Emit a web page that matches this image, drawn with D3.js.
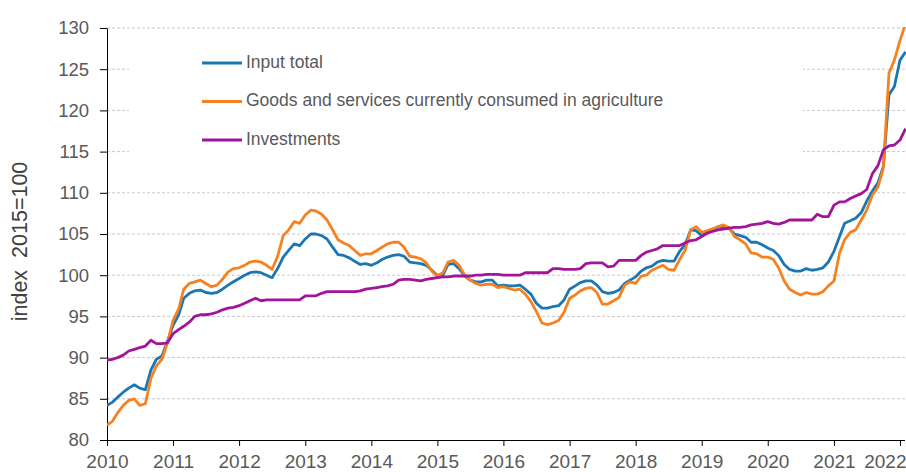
<!DOCTYPE html>
<html>
<head>
<meta charset="utf-8">
<script src="https://cdn.jsdelivr.net/npm/d3@7"></script>
<style>
    body { margin: 0; background: #ffffff; }
    svg { display: block; font-family: "Liberation Sans", Arial, sans-serif; }
</style>
</head>
<body>
<div id="graph"></div>
<script>

// Monthly series, January 2010 -> February 2022 (index 2015=100)
const inputTotal = [
    84.2, 84.6, 85.2, 85.8, 86.3, 86.7, 86.3, 86.1, 88.5, 89.8, 90.2, 92.0,
    93.9, 95.2, 97.2, 97.8, 98.1, 98.2, 97.9, 97.8, 97.9, 98.3, 98.8, 99.2,
    99.6, 100.0, 100.3, 100.4, 100.3, 100.0, 99.7, 100.8, 102.2, 103.0, 103.8, 103.6,
    104.4, 105.0, 105.0, 104.8, 104.4, 103.4, 102.5, 102.4, 102.1, 101.7, 101.3, 101.4,
    101.2, 101.5, 101.9, 102.2, 102.4, 102.5, 102.3, 101.6, 101.5, 101.4, 101.2, 100.6,
    100.0, 100.0, 101.3, 101.4, 100.8, 99.9, 99.4, 99.2, 99.2, 99.4, 99.4, 98.7,
    98.8, 98.7, 98.7, 98.8, 98.3, 97.7, 96.6, 96.0, 96.0, 96.2, 96.3, 97.0,
    98.3, 98.7, 99.1, 99.3, 99.3, 98.8, 98.0, 97.8, 97.9, 98.2, 99.0, 99.4,
    99.8, 100.5, 100.9, 101.1, 101.6, 101.8, 101.7, 101.7, 102.9, 103.7, 105.5, 105.4,
    104.8, 105.3, 105.6, 105.8, 105.9, 105.7, 105.0, 104.8, 104.6, 104.0, 104.0, 103.7,
    103.3, 103.0, 102.4, 101.3, 100.7, 100.5, 100.5, 100.8, 100.6, 100.7, 100.9, 101.6,
    102.9, 104.7, 106.3, 106.6, 106.9, 107.6, 109.0, 110.2, 111.2, 113.2, 121.9, 122.9,
    126.1, 127.1
];

const goodsServices = [
    81.8, 82.3, 83.3, 84.2, 84.8, 85.0, 84.2, 84.4, 87.5, 89.0, 89.8, 91.8,
    94.5, 95.9, 98.3, 99.0, 99.2, 99.4, 99.0, 98.6, 98.8, 99.5, 100.4, 100.8,
    100.9, 101.2, 101.6, 101.7, 101.6, 101.2, 100.7, 102.3, 104.8, 105.5, 106.5, 106.3,
    107.3, 107.9, 107.8, 107.4, 106.7, 105.5, 104.3, 103.9, 103.6, 103.0, 102.4, 102.6,
    102.6, 103.0, 103.4, 103.8, 104.0, 104.0, 103.4, 102.3, 102.2, 102.0, 101.5, 100.5,
    99.9, 100.3, 101.6, 101.8, 101.2, 100.0, 99.4, 99.0, 98.8, 98.9, 98.9, 98.5,
    98.6, 98.4, 98.2, 98.3, 97.7, 96.8, 95.6, 94.2, 94.0, 94.2, 94.5, 95.5,
    97.2, 97.6, 98.1, 98.4, 98.5, 97.9, 96.5, 96.5, 96.9, 97.3, 98.8, 99.2,
    99.0, 99.9, 100.0, 100.6, 100.9, 101.2, 100.7, 100.6, 101.9, 103.0, 105.5, 105.9,
    105.2, 105.4, 105.6, 105.9, 106.1, 105.8, 104.7, 104.3, 103.8, 102.7, 102.6, 102.2,
    102.2, 101.9, 100.9, 99.3, 98.3, 97.9, 97.6, 97.9, 97.7, 97.7, 98.0, 98.7,
    99.3, 102.7, 104.3, 105.2, 105.5, 106.7, 107.9, 109.7, 110.7, 113.0, 124.5, 126.1,
    128.5, 130.5
];

const investments = [
    89.7, 89.8, 90.0, 90.3, 90.8, 91.0, 91.2, 91.4, 92.1, 91.7, 91.7, 91.8,
    92.9, 93.4, 93.8, 94.3, 95.0, 95.2, 95.2, 95.3, 95.5, 95.8, 96.0, 96.1,
    96.3, 96.6, 96.9, 97.2, 96.9, 97.0, 97.0, 97.0, 97.0, 97.0, 97.0, 97.0,
    97.5, 97.5, 97.5, 97.8, 98.0, 98.0, 98.0, 98.0, 98.0, 98.0, 98.1, 98.3,
    98.4, 98.5, 98.6, 98.7, 98.9, 99.4, 99.5, 99.5, 99.4, 99.3, 99.5, 99.6,
    99.7, 99.8, 99.8, 99.9, 99.9, 99.9, 99.9, 100.0, 100.0, 100.1, 100.1, 100.1,
    100.0, 100.0, 100.0, 100.0, 100.3, 100.3, 100.3, 100.3, 100.3, 100.8, 100.8, 100.7,
    100.7, 100.7, 100.8, 101.4, 101.5, 101.5, 101.5, 101.0, 101.1, 101.8, 101.8, 101.8,
    101.8, 102.4, 102.8, 103.0, 103.2, 103.6, 103.6, 103.6, 103.6, 103.9, 104.2, 104.3,
    104.7, 105.1, 105.3, 105.5, 105.6, 105.7, 105.8, 105.8, 105.9, 106.1, 106.2, 106.3,
    106.5, 106.3, 106.2, 106.4, 106.7, 106.7, 106.7, 106.7, 106.7, 107.4, 107.1, 107.1,
    108.5, 108.9, 108.9, 109.3, 109.6, 109.9, 110.4, 112.3, 113.3, 115.2, 115.7, 115.8,
    116.4, 117.8
];

const seriesNames = ["Input total", "Goods and services currently consumed in agriculture", "Investments"];
const seriesColors = ["#1b77b4", "#f5821f", "#a3149b"];
const yearTicks = [2010, 2011, 2012, 2013, 2014, 2015, 2016, 2017, 2018, 2019, 2020, 2021, 2022];
const yTicks = [80, 85, 90, 95, 100, 105, 110, 115, 120, 125, 130];
const yLabel = "index\u00a0\u00a02015=100";

//---------------------------------------------------------------------------------------

// Canvas

const width = 906;
const height = 472;
const plotLeft = 107;
const plotRight = 905;
const plotTop = 28;
const plotBottom = 440;

const svg = d3.select("#graph")
    .append("svg")
    .attr("width", width)
    .attr("height", height);

// month dates for the x positions
const months = inputTotal.map((d, i) => new Date(2010, i, 1));

//---------------------------------------------------------------------------------------

// Scales

const scaleT = d3.scaleTime()
    .domain([new Date(2010, 0, 1), new Date(2022, 0, 1)])
    .range([plotLeft, 900]);

const scaleY = d3.scaleLinear()
    .domain([80, 130])
    .range([plotBottom, plotTop]);

//---------------------------------------------------------------------------------------

// Horizontal grid lines
svg.append("g")
    .selectAll("line")
    .data(yTicks.filter(d => d > 80))
    .join("line")
    .attr("x1", plotLeft)
    .attr("x2", plotRight)
    .attr("y1", d => scaleY(d))
    .attr("y2", d => scaleY(d))
    .attr("stroke", "#cbc6cf")
    .attr("stroke-width", 1)
    .attr("stroke-dasharray", "3,2");

// white box behind the legend (hides the grid lines like the original)
svg.append("rect")
    .attr("x", 129)
    .attr("y", 36)
    .attr("width", 674)
    .attr("height", 124)
    .attr("fill", "#ffffff");

//---------------------------------------------------------------------------------------

// Axes

// Y axis
svg.append("g")
    .attr("transform", `translate(${plotLeft}, 0)`)
    .call(d3.axisLeft(scaleY)
        .tickValues(yTicks)
        .tickSize(7)
        .tickSizeOuter(0)
        .tickPadding(11))
    .call(g => g.select(".domain").attr("stroke", "#000"))
    .call(g => g.selectAll(".tick line").attr("stroke", "#000"))
    .call(g => g.selectAll("text")
        .attr("fill", "#595959")
        .attr("font-size", "18.5px")
        .attr("font-family", "Liberation Sans, Arial, sans-serif"));

// X axis
svg.append("g")
    .attr("transform", `translate(0, ${plotBottom})`)
    .call(d3.axisBottom(scaleT)
        .tickValues(yearTicks.map(y => new Date(y, 0, 1)))
        .tickFormat(d3.timeFormat("%Y"))
        .tickSize(6)
        .tickSizeOuter(0)
        .tickPadding(9))
    .call(g => g.select(".domain").remove())
    .call(g => g.selectAll(".tick line").attr("stroke", "#000"))
    .call(g => g.selectAll("text")
        .attr("fill", "#595959")
        .attr("font-size", "19px")
        .attr("font-family", "Liberation Sans, Arial, sans-serif"))
    // the last label is pushed left so it stays inside the frame
    .call(g => g.selectAll(".tick:last-of-type text")
        .attr("text-anchor", "end")
        .attr("x", 6));

svg.append("line")
    .attr("x1", plotLeft)
    .attr("x2", plotRight)
    .attr("y1", plotBottom + 0.5)
    .attr("y2", plotBottom + 0.5)
    .attr("stroke", "#000");

// Y axis title
svg.append("text")
    .attr("transform", `translate(21, ${(158 + 325) / 2}) rotate(-90)`)
    .attr("text-anchor", "middle")
    .attr("dominant-baseline", "middle")
    .attr("font-size", "21.5px")
    .attr("fill", "#404040")
    .text(yLabel);

//---------------------------------------------------------------------------------------

// Lines

svg.append("clipPath")
    .attr("id", "plot-clip")
    .append("rect")
    .attr("x", plotLeft)
    .attr("y", plotTop - 1)
    .attr("width", plotRight - plotLeft + 2)
    .attr("height", plotBottom - plotTop + 1);

const lineGenerator = d3.line()
    .x((d, i) => scaleT(months[i]))
    .y(d => scaleY(d));

const allSeries = [inputTotal, goodsServices, investments];

svg.append("g")
    .attr("clip-path", "url(#plot-clip)")
    .selectAll("path")
    .data(allSeries)
    .join("path")
    .attr("d", d => lineGenerator(d))
    .attr("fill", "none")
    .attr("stroke", (d, i) => seriesColors[i])
    .attr("stroke-width", 2.8)
    .attr("stroke-linejoin", "round");

//---------------------------------------------------------------------------------------

// Legend

const legend = svg.append("g")
    .selectAll("g")
    .data(seriesNames)
    .join("g")
    .attr("transform", (d, i) => `translate(202, ${63 + i * 38.5})`);

legend.append("line")
    .attr("x1", 0)
    .attr("x2", 40)
    .attr("stroke", (d, i) => seriesColors[i])
    .attr("stroke-width", 2.8);

legend.append("text")
    .attr("x", 44)
    .attr("dominant-baseline", "middle")
    .attr("font-size", "17.5px")
    .attr("fill", "#595959")
    .text(d => d);

</script>
</body>
</html>
